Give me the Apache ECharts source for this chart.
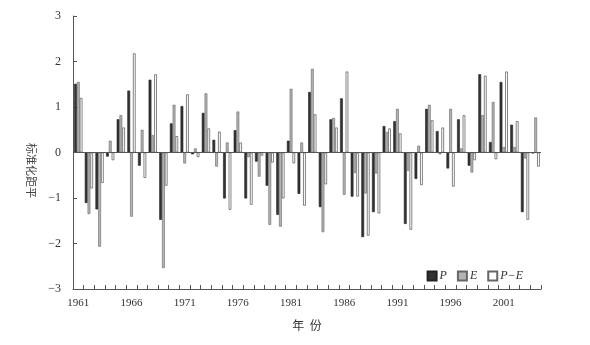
<!DOCTYPE html>
<html>
<head>
<meta charset="utf-8">
<script src="https://cdn.jsdelivr.net/npm/echarts@6/dist/echarts.min.js"></script>
<style>
  html, body { margin: 0; padding: 0; background: #fff; }
  #ch1 { width: 590px; height: 345px; }
</style>
</head>
<body>
<div id="ch1"></div>
<script>
const years = [];
for (let y = 1961; y <= 2004; y++) years.push(String(y));

// 标准化距平
const pVals = [1.51, -1.11, -1.25, -0.09, 0.73, 1.36, -0.29, 1.60, -1.48, 0.64,
  1.02, -0.04, 0.87, 0.28, -1.01, 0.49, -1.01, -0.20, -0.73, -1.37,
  0.26, -0.91, 1.33, -1.20, 0.73, 1.19, -0.97, -1.86, -1.31, 0.58,
  0.69, -1.57, -0.58, 0.96, 0.47, -0.35, 0.73, -0.29, 1.72, 0.23,
  1.55, 0.61, -1.31, -0.02];
const eVals = [1.55, -1.35, -2.07, 0.26, 0.82, -1.41, 0.50, 0.38, -2.54, 1.05,
  -0.24, 0.09, 1.30, -0.31, 0.22, 0.90, -0.10, -0.53, -1.59, -1.63,
  1.40, 0.22, 1.84, -1.75, 0.76, -0.93, -0.45, -0.90, -0.46, 0.45,
  0.96, -0.40, 0.15, 1.05, -0.04, 0.96, 0.09, -0.44, 0.82, 1.11,
  0.12, 0.12, -0.13, 0.77];
const peVals = [1.20, -0.79, -0.67, -0.17, 0.55, 2.18, -0.56, 1.72, -0.73, 0.36,
  1.28, -0.10, 0.53, 0.46, -1.26, 0.22, -1.15, -0.07, -0.22, -1.01,
  -0.24, -1.17, 0.84, -0.70, 0.55, 1.78, -0.97, -1.83, -1.34, 0.53,
  0.42, -1.70, -0.72, 0.71, 0.55, -0.75, 0.82, -0.17, 1.69, -0.15,
  1.78, 0.69, -1.48, -0.31];

const yTicks = [-3, -2, -1, 0, 1, 2, 3];

const font = '"Liberation Serif", "Noto Sans CJK SC", serif';
const cjk = '"Noto Sans CJK SC", sans-serif';
const axisColor = '#555';

const cht1 = echarts.init(document.getElementById('ch1'));

const options1 = {
  backgroundColor: '#fff',
  animation: false,
  grid: {
    left: 73,
    right: 49,
    top: 16,
    bottom: 56,
  },
  legend: {
    right: 62,
    top: 265,
    icon: 'rect',
    itemWidth: 9,
    itemHeight: 9,
    itemGap: 10,
    textStyle: { fontFamily: font, fontStyle: 'italic', fontSize: 12, color: '#333', padding: [0, 0, 0, -2] },
    data: ['P', 'E', 'P\u2212E'],
  },
  xAxis: {
    type: 'category',
    data: years,
    name: '年  份',
    nameLocation: 'middle',
    nameGap: 30,
    nameTextStyle: { fontFamily: cjk, fontSize: 12, color: '#333' },
    axisLine: { onZero: false, lineStyle: { color: axisColor } },
    axisTick: { show: true, inside: true, length: 4, interval: 0, lineStyle: { color: axisColor } },
    axisLabel: {
      interval: (i) => i % 5 === 0,
      fontFamily: font,
      fontSize: 11,
      color: '#333',
      margin: 9,
    },
  },
  yAxis: {
    type: 'value',
    min: yTicks[0],
    max: yTicks[yTicks.length - 1],
    interval: 1,
    name: '标准化距平',
    nameLocation: 'middle',
    nameRotate: -90,
    nameGap: 36,
    nameTextStyle: { fontFamily: cjk, fontSize: 11, color: '#444', padding: [0, 0, 0, 36] },
    axisLine: { show: true, lineStyle: { color: axisColor } },
    axisTick: { show: true, inside: true, length: 4, lineStyle: { color: axisColor } },
    splitLine: { show: false },
    axisLabel: {
      fontFamily: font,
      fontSize: 12,
      color: '#333',
      margin: 12,
      formatter: (v) => String(v).replace('-', '\u2212'),
    },
  },
  series: [
    {
      name: 'P',
      type: 'bar',
      data: pVals,
      barGap: '0%',
      barCategoryGap: '22%',
      itemStyle: { color: '#333', borderColor: '#222', borderWidth: 0.6 },
      markLine: {
        silent: true,
        symbol: 'none',
        label: { show: false },
        lineStyle: { color: '#555', type: 'solid', width: 1 },
        data: [{ yAxis: 0 }],
      },
    },
    {
      name: 'E',
      type: 'bar',
      data: eVals,
      itemStyle: { color: '#b4b4b4', borderColor: '#666', borderWidth: 0.6 },
    },
    {
      name: 'P\u2212E',
      type: 'bar',
      data: peVals,
      itemStyle: { color: '#fff', borderColor: '#666', borderWidth: 0.8 },
    },
  ],
};
cht1.setOption(options1);
</script>
</body>
</html>
